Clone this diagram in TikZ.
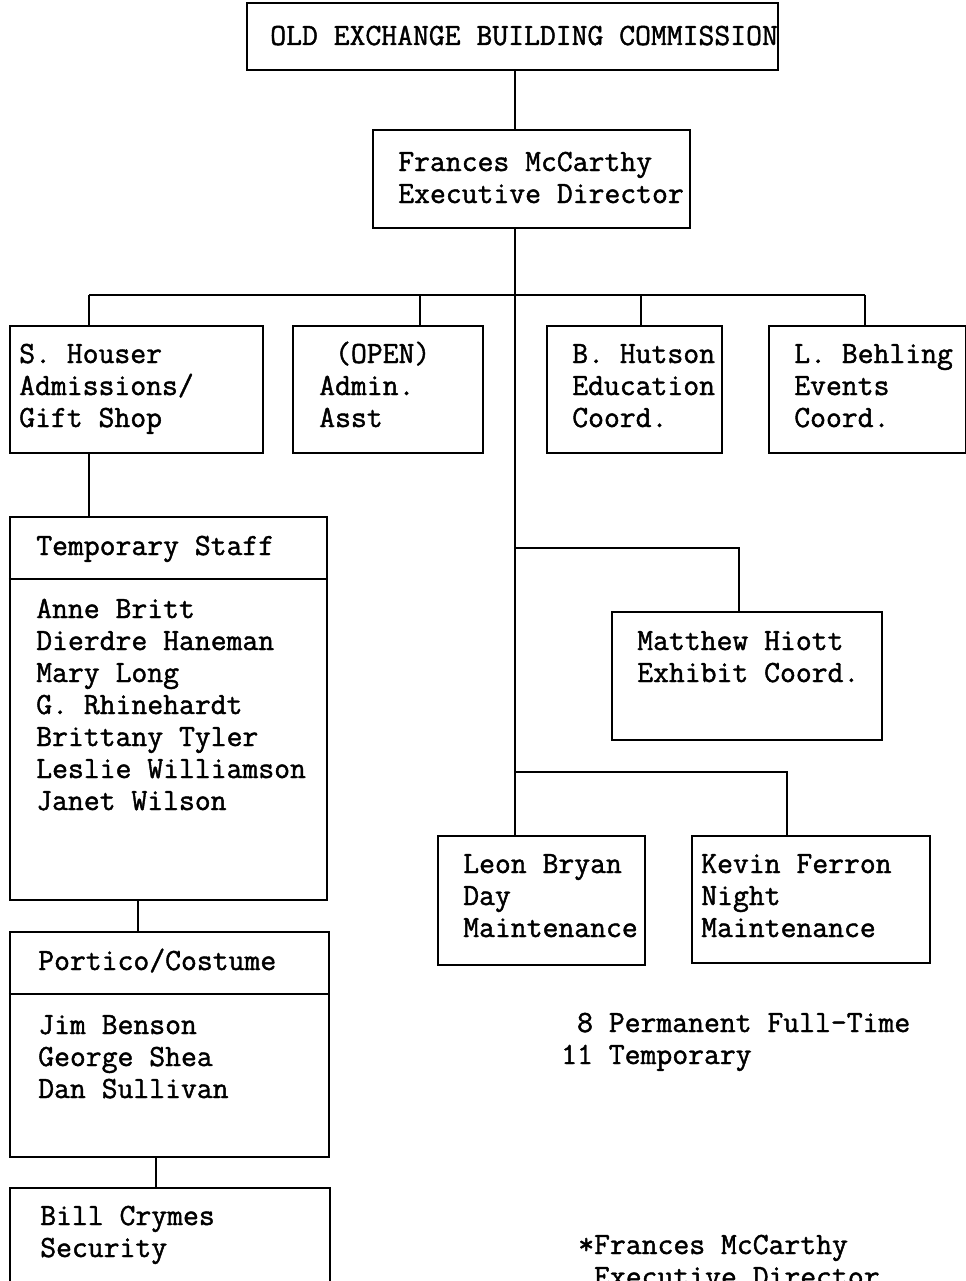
\documentclass[tikz,border=0pt]{standalone}
\usepackage{fontspec}
\setmonofont[FakeBold=1.4]{Latin Modern Mono}
\usetikzlibrary{positioning}
\usetikzlibrary{fit}
\usetikzlibrary{calc}
\tikzset{box/.style = {draw, line width = 1.6pt, inner sep = 0}}
\tikzset{wire/.style = {line width = 1.6pt}}
\tikzset{txt/.style = {anchor = base west, inner sep = 0, align = left,
                       font = \ttfamily\fontsize{23.1}{24}\selectfont}}

\begin{document}
\begin{tikzpicture}[x=0.75pt, y=-0.75pt]
        \useasboundingbox (0, 0) rectangle (966, 1281);
        \clip (0, 0) rectangle (966, 1281);

        \node [box, fit={(247, 3) (778, 70)}] (commission) {};
        \node [box, fit={(373, 130) (690, 228)}] (director) {};
        \node [box, fit={(10, 326) (263, 453)}] (houser) {};
        \node [box, fit={(293, 326) (483, 453)}] (open) {};
        \node [box, fit={(547, 326) (722, 453)}] (hutson) {};
        \node [box, fit={(769, 326) (966, 453)}] (behling) {};
        \node [box, fit={(10, 517) (327, 900)}] (temp) {};
        \node [box, fit={(10, 932) (329, 1157)}] (portico) {};
        \node [box, fit={(10, 1188) (330, 1320)}] (bill) {};
        \node [box, fit={(612, 612) (882, 740)}] (hiott) {};
        \node [box, fit={(438, 836) (645, 965)}] (leon) {};
        \node [box, fit={(692, 836) (930, 963)}] (kevin) {};

        \draw [wire] ($(temp.north west)+(0, 63)$) -- ($(temp.north east)+(0, 63)$);
        \draw [wire] ($(portico.north west)+(0, 63)$) -- ($(portico.north east)+(0, 63)$);

        % text nodes sit on the baseline of their last line
        \node [txt] (commission-t) at (270, 45) {OLD EXCHANGE BUILDING COMMISSION};
        \node [txt] (director-t) at (398, 203) {Frances McCarthy\\Executive Director};
        \node [txt] (houser-t) at (19, 427) {S. Houser\\Admissions/\\Gift Shop};
        \node [txt] (open-t) at (319, 427) {~(OPEN)\\Admin.\\Asst};
        \node [txt] (hutson-t) at (572, 427) {B. Hutson\\Education\\Coord.};
        \node [txt] (behling-t) at (794, 427) {L. Behling\\Events\\Coord.};
        \node [txt] (temp-h) at (36, 555) {Temporary Staff};
        \node [txt] (temp-t) at (36, 810) {Anne Britt\\Dierdre Haneman\\Mary Long\\G. Rhinehardt\\Brittany Tyler\\Leslie Williamson\\Janet Wilson};
        \node [txt] (portico-h) at (38, 970) {Portico/Costume};
        \node [txt] (portico-t) at (38, 1098) {Jim Benson\\George Shea\\Dan Sullivan};
        \node [txt] (bill-t) at (40, 1257) {Bill Crymes\\Security};
        \node [txt] (hiott-t) at (637, 682) {Matthew Hiott\\Exhibit Coord.};
        \node [txt] (leon-t) at (463, 937) {Leon Bryan\\Day\\Maintenance};
        \node [txt] (kevin-t) at (701, 937) {Kevin Ferron\\Night\\Maintenance};
        \node [txt] (count) at (561, 1064) {~8 Permanent Full-Time\\11 Temporary};
        \node [txt] (note) at (578, 1286) {*Frances McCarthy\\~Executive Director};

        \coordinate (trunk) at (515, 295);
        \coordinate (bar-w) at (89, 295);
        \coordinate (bar-e) at (865, 295);
        \coordinate (drop-open) at (420, 295);
        \coordinate (drop-hutson) at (641, 295);
        \coordinate (hiott-tap) at (739, 548);
        \coordinate (maint-tap) at (787, 772);
        \coordinate (link-a) at (138, 916);
        \coordinate (link-b) at (156, 1172);

        \draw [wire] (commission.south -| trunk) -- (director.north -| trunk);
        \draw [wire] (director.south -| trunk) -- (trunk |- leon.north);
        \draw [wire] (bar-w) -- (bar-e);
        \foreach \d/\b in {bar-w/houser, drop-open/open, drop-hutson/hutson, bar-e/behling}
                \draw [wire] (\d) -- (\d |- \b.north);
        \draw [wire] (trunk |- hiott-tap) -| (hiott-tap |- hiott.north);
        \draw [wire] (trunk |- maint-tap) -| (maint-tap |- kevin.north);
        \draw [wire] (bar-w |- houser.south) -- (bar-w |- temp.north);
        \draw [wire] (link-a |- temp.south) -- (link-a |- portico.north);
        \draw [wire] (link-b |- portico.south) -- (link-b |- bill.north);
\end{tikzpicture}
\end{document}
